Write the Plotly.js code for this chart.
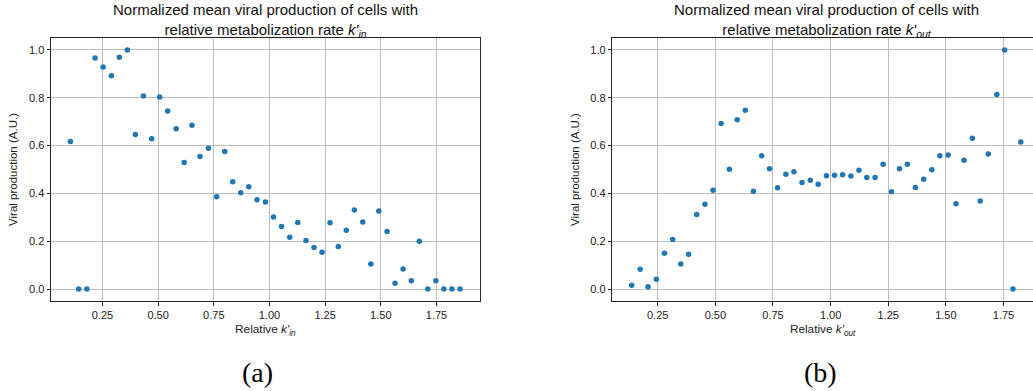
<!DOCTYPE html>
<html>
<head>
<meta charset="utf-8">
<script src="https://cdn.plot.ly/plotly-3.0.1.min.js"></script>
<style>
  html, body { margin: 0; padding: 0; background: #ffffff; }
  #chart { width: 1033px; height: 391px; }
</style>
</head>
<body>
<div id="chart"></div>
<script>
// Panel (a): relative k'_in
const kinX = [0.106, 0.143, 0.180, 0.217, 0.253, 0.290, 0.326, 0.362, 0.398, 0.434,
  0.471, 0.507, 0.543, 0.581, 0.617, 0.652, 0.688, 0.726, 0.763, 0.799,
  0.835, 0.871, 0.907, 0.944, 0.982, 1.018, 1.054, 1.091, 1.127, 1.164,
  1.200, 1.236, 1.272, 1.309, 1.345, 1.381, 1.419, 1.455, 1.491, 1.528,
  1.564, 1.600, 1.637, 1.673, 1.711, 1.747, 1.783, 1.819, 1.856];
const kinY = [0.617, 0.000, 0.000, 0.966, 0.929, 0.892, 0.969, 1.000, 0.646, 0.807,
  0.629, 0.803, 0.745, 0.670, 0.529, 0.685, 0.554, 0.589, 0.386, 0.575,
  0.449, 0.403, 0.428, 0.373, 0.364, 0.301, 0.262, 0.217, 0.278, 0.203,
  0.174, 0.154, 0.277, 0.178, 0.246, 0.331, 0.280, 0.105, 0.326, 0.241,
  0.024, 0.084, 0.035, 0.200, 0.000, 0.035, 0.000, 0.000, 0.000];

// Panel (b): relative k'_out
const koutX = [0.137, 0.174, 0.208, 0.244, 0.279, 0.315, 0.350, 0.384, 0.419, 0.455,
  0.490, 0.525, 0.561, 0.595, 0.630, 0.665, 0.701, 0.735, 0.770, 0.806,
  0.841, 0.876, 0.912, 0.946, 0.982, 1.017, 1.052, 1.088, 1.123, 1.157,
  1.193, 1.228, 1.264, 1.299, 1.333, 1.368, 1.404, 1.439, 1.474, 1.510,
  1.544, 1.579, 1.615, 1.649, 1.684, 1.721, 1.755, 1.791, 1.825];
const koutY = [0.016, 0.083, 0.010, 0.041, 0.150, 0.207, 0.105, 0.146, 0.312, 0.355,
  0.413, 0.692, 0.501, 0.708, 0.748, 0.409, 0.557, 0.503, 0.424, 0.480,
  0.491, 0.446, 0.455, 0.438, 0.474, 0.476, 0.478, 0.473, 0.497, 0.467,
  0.467, 0.522, 0.407, 0.503, 0.522, 0.425, 0.459, 0.499, 0.557, 0.561,
  0.357, 0.539, 0.631, 0.368, 0.565, 0.814, 1.000, 0.000, 0.615];

const xTicks = [0.25, 0.5, 0.75, 1.0, 1.25, 1.5, 1.75];
const xTickText = ["0.25", "0.50", "0.75", "1.00", "1.25", "1.50", "1.75"];
const yTicks = [0.0, 0.2, 0.4, 0.6, 0.8, 1.0];
const yTickText = ["0.0", "0.2", "0.4", "0.6", "0.8", "1.0"];

const titleA = "Normalized mean viral production of cells with<br>relative metabolization rate <i>k'</i><sub><i>in</i></sub>";
const titleB = "Normalized mean viral production of cells with<br>relative metabolization rate <i>k'</i><sub><i>out</i></sub>";
const xTitleA = "Relative <i>k'</i><sub><i>in</i></sub>";
const xTitleB = "Relative <i>k'</i><sub><i>out</i></sub>";
const yTitle = "Viral production (A.U.)";

const FONT = "Liberation Sans, Arial, sans-serif";
const marker = { color: "#1f77b4", size: 5.5 };

const traces = [
  { x: kinX, y: kinY, type: "scatter", mode: "markers", marker: marker,
    xaxis: "x", yaxis: "y", hoverinfo: "x+y" },
  { x: koutX, y: koutY, type: "scatter", mode: "markers", marker: marker,
    xaxis: "x2", yaxis: "y2", hoverinfo: "x+y" }
];

function xax(domain, range, title, anchor) {
  return {
    domain: domain, range: range, anchor: anchor,
    tickmode: "array", tickvals: xTicks, ticktext: xTickText,
    ticks: "outside", ticklen: 3.5, tickwidth: 0.8, tickcolor: "#222",
    showline: true, linecolor: "#262626", linewidth: 1, mirror: true,
    showgrid: true, gridcolor: "#bdbdbd", gridwidth: 1,
    zeroline: false,
    tickfont: { family: FONT, size: 11, color: "#222" },
    title: { text: title, font: { family: FONT, size: 11.8, color: "#222" }, standoff: 5 }
  };
}
function yax(anchor, mirror) {
  return {
    domain: [0, 1], range: [-0.05, 1.05], anchor: anchor,
    tickmode: "array", tickvals: yTicks, ticktext: yTickText,
    ticks: "outside", ticklen: 3.5, tickwidth: 0.8, tickcolor: "#222",
    showline: true, linecolor: "#262626", linewidth: 1, mirror: mirror,
    showgrid: true, gridcolor: "#bdbdbd", gridwidth: 1,
    zeroline: false,
    tickfont: { family: FONT, size: 11, color: "#222" },
    title: { text: yTitle, font: { family: FONT, size: 11.5, color: "#222" }, standoff: 8 }
  };
}

const W = 1033, ML = 51, MR = 0;
const PW = W - ML - MR;
const leftEnd = (479.7 - ML) / PW;
const rightStart = (612.3 - ML) / PW;
const leftCenter = leftEnd / 2;
const rightCenter = rightStart + (1.0 - rightStart) * 0.5;

const layout = {
  width: 1033, height: 391,
  margin: { l: ML, r: MR, t: 38, b: 90 },
  paper_bgcolor: "#ffffff", plot_bgcolor: "#ffffff",
  showlegend: false,
  font: { family: FONT, size: 11, color: "#222" },
  xaxis: xax([0, leftEnd], [0.019, 1.944], xTitleA, "y"),
  yaxis: yax("x", true),
  xaxis2: xax([rightStart, 1], [0.053, 1.878], xTitleB, "y2"),
  yaxis2: yax("x2", false),
  annotations: [
    { text: titleA, xref: "paper", yref: "paper", x: leftCenter, y: 1, yshift: 39,
      xanchor: "center", yanchor: "top", showarrow: false,
      font: { family: FONT, size: 15, color: "#111" } },
    { text: titleB, xref: "paper", yref: "paper", x: rightCenter + 3.5 / PW, y: 1, yshift: 39,
      xanchor: "center", yanchor: "top", showarrow: false,
      font: { family: FONT, size: 15, color: "#111" } },
    { text: "(a)", xref: "paper", yref: "paper", x: leftCenter - 8 / PW, y: 0, yshift: -54,
      xanchor: "center", yanchor: "top", showarrow: false,
      font: { family: "Liberation Serif, Times New Roman, serif", size: 28, color: "#000" } },
    { text: "(b)", xref: "paper", yref: "paper", x: rightCenter - 2 / PW, y: 0, yshift: -54,
      xanchor: "center", yanchor: "top", showarrow: false,
      font: { family: "Liberation Serif, Times New Roman, serif", size: 28, color: "#000" } }
  ]
};

Plotly.newPlot("chart", traces, layout, { displayModeBar: false, responsive: false });
</script>
</body>
</html>
